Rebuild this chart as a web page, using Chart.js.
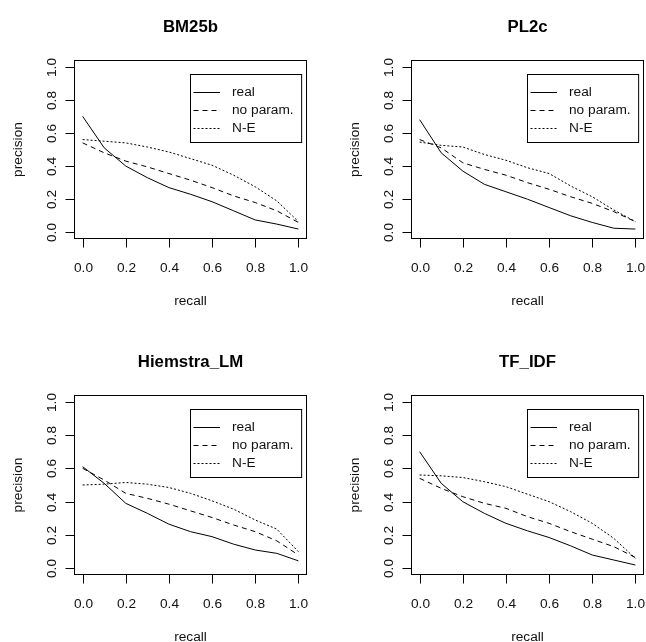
<!DOCTYPE html>
<html lang="en">
<head>
  <meta charset="UTF-8">
  <title>Recall / precision</title>
  <script src="https://cdn.jsdelivr.net/npm/chart.js"></script>
  <style>
    body {
      margin: 0;
      background: #fff;
      width: 646px;
      height: 642px;
      position: relative;
      overflow: hidden;
    }
    canvas {
      position: absolute;
    }
  </style>
</head>
<body>

  <canvas id="c1" width="323" height="321" style="left:0;top:0"></canvas>
  <canvas id="c2" width="323" height="321" style="left:323px;top:0"></canvas>
  <canvas id="c3" width="323" height="321" style="left:0;top:321px"></canvas>
  <canvas id="c4" width="323" height="321" style="left:323px;top:321px"></canvas>

  <script>
    // data (11-point recall levels)
    const recall = [0, 0.1, 0.2, 0.3, 0.4, 0.5, 0.6, 0.7, 0.8, 0.9, 1.0];
    const axisTicks = [0, 0.2, 0.4, 0.6, 0.8, 1.0];
    const tickLabels = ['0.0', '0.2', '0.4', '0.6', '0.8', '1.0'];
    const seriesNames = ['real', 'no param.', 'N-E'];
    const titles = ['BM25b', 'PL2c', 'Hiemstra_LM', 'TF_IDF'];

    const bm25bReal    = [0.70, 0.51, 0.40, 0.33, 0.27, 0.23, 0.185, 0.13, 0.075, 0.05, 0.02];
    const bm25bNoParam = [0.54, 0.48, 0.43, 0.395, 0.355, 0.315, 0.27, 0.22, 0.18, 0.13, 0.06];
    const bm25bNE      = [0.56, 0.55, 0.54, 0.515, 0.485, 0.445, 0.405, 0.345, 0.275, 0.19, 0.065];

    const pl2cReal     = [0.68, 0.48, 0.37, 0.29, 0.245, 0.20, 0.15, 0.10, 0.06, 0.025, 0.02];
    const pl2cNoParam  = [0.56, 0.51, 0.42, 0.38, 0.345, 0.30, 0.26, 0.215, 0.175, 0.125, 0.065];
    const pl2cNE       = [0.545, 0.525, 0.515, 0.47, 0.435, 0.39, 0.355, 0.28, 0.215, 0.135, 0.065];

    const hiemReal     = [0.61, 0.51, 0.39, 0.33, 0.265, 0.22, 0.19, 0.145, 0.11, 0.09, 0.045];
    const hiemNoParam  = [0.60, 0.53, 0.45, 0.42, 0.385, 0.345, 0.305, 0.26, 0.22, 0.165, 0.08];
    const hiemNE       = [0.50, 0.505, 0.515, 0.505, 0.485, 0.45, 0.405, 0.355, 0.29, 0.235, 0.10];

    const tfidfReal    = [0.70, 0.51, 0.40, 0.33, 0.27, 0.225, 0.185, 0.135, 0.08, 0.05, 0.02];
    const tfidfNoParam = [0.54, 0.48, 0.43, 0.39, 0.36, 0.31, 0.27, 0.22, 0.175, 0.13, 0.065];
    const tfidfNE      = [0.56, 0.555, 0.545, 0.52, 0.49, 0.445, 0.40, 0.34, 0.27, 0.18, 0.06];

    const FONT = '"Liberation Sans", Arial, sans-serif';
    const dashes = [[], [5, 4], [2, 2]];

    // R style box, axes, labels and legend, drawn off the chart's own scales
    const rFrame = {
      id: 'rFrame',
      afterDraw(chart, args, opts) {
        const ctx = chart.ctx;
        const a = chart.chartArea;
        const xs = chart.scales.x;
        const ys = chart.scales.y;
        ctx.save();
        ctx.strokeStyle = '#000';
        ctx.fillStyle = '#111';
        ctx.lineWidth = 1;

        // box
        ctx.strokeRect(Math.round(a.left) + 0.5, Math.round(a.top) + 0.5,
          Math.round(a.right - a.left) - 1, Math.round(a.bottom - a.top) - 1);

        // x axis
        ctx.font = '13.7px ' + FONT;
        ctx.textAlign = 'center';
        ctx.textBaseline = 'middle';
        const bottom = Math.round(a.bottom) - 0.5;
        axisTicks.forEach((v, i) => {
          const px = Math.round(xs.getPixelForValue(v)) + 0.5;
          ctx.beginPath();
          ctx.moveTo(px, bottom);
          ctx.lineTo(px, bottom + 9);
          ctx.stroke();
          ctx.fillText(tickLabels[i], px, a.bottom + 29);
        });

        // y axis
        const left = Math.round(a.left) + 0.5;
        axisTicks.forEach((v, i) => {
          const py = Math.round(ys.getPixelForValue(v)) + 0.5;
          ctx.beginPath();
          ctx.moveTo(left, py);
          ctx.lineTo(left - 9, py);
          ctx.stroke();
          ctx.save();
          ctx.translate(a.left - 22, py);
          ctx.rotate(-Math.PI / 2);
          ctx.fillText(tickLabels[i], 0, 0);
          ctx.restore();
        });

        // axis titles
        const cx = (a.left + a.right) / 2;
        const cy = (a.top + a.bottom) / 2;
        ctx.fillText('recall', cx, a.bottom + 62);
        ctx.save();
        ctx.translate(a.left - 56, cy);
        ctx.rotate(-Math.PI / 2);
        ctx.fillText('precision', 0, 0);
        ctx.restore();

        // main title
        ctx.fillStyle = '#000';
        ctx.font = 'bold 16.8px ' + FONT;
        ctx.fillText(opts.title, cx, a.top - 33);

        // legend
        ctx.font = '13.7px ' + FONT;
        ctx.fillStyle = '#111';
        const tw = Math.max(...seriesNames.map(s => ctx.measureText(s).width));
        const lw = 41.5 + tw + 8;
        const lh = 68;
        const lx = Math.round(a.right - 6 - lw) + 0.5;
        const ly = Math.round(a.top + 14) + 0.5;
        ctx.fillStyle = '#fff';
        ctx.fillRect(lx, ly, lw, lh);
        ctx.strokeRect(lx, ly, lw, lh);
        ctx.fillStyle = '#111';
        ctx.textAlign = 'left';
        seriesNames.forEach((s, i) => {
          const ry = Math.round(ly + 17.5 + i * 18) + 0.5;
          ctx.setLineDash(dashes[i]);
          ctx.beginPath();
          ctx.moveTo(lx + 3, ry);
          ctx.lineTo(lx + 29.5, ry);
          ctx.stroke();
          ctx.setLineDash([]);
          ctx.fillText(s, lx + 41.5, ry);
        });
        ctx.restore();
      }
    };

    function points(values) {
      return recall.map((r, i) => ({ x: r, y: values[i] }));
    }

    function makePanel(id, title, series, padding) {
      new Chart(document.getElementById(id), {
        type: 'line',
        data: {
          datasets: series.map((vals, i) => ({
            label: seriesNames[i],
            data: points(vals),
            borderColor: '#000',
            borderWidth: 1,
            borderDash: dashes[i],
            pointRadius: 0,
            fill: false,
            tension: 0
          }))
        },
        options: {
          responsive: false,
          animation: false,
          layout: { padding: padding },
          plugins: {
            legend: { display: false },
            tooltip: { enabled: false },
            rFrame: { title: title }
          },
          scales: {
            x: { type: 'linear', min: -0.04, max: 1.04, display: false },
            y: { type: 'linear', min: -0.04, max: 1.04, display: false }
          }
        },
        plugins: [rFrame]
      });
    }

    makePanel('c1', titles[0], [bm25bReal, bm25bNoParam, bm25bNE], { left: 74, right: 16, top: 60, bottom: 82 });
    makePanel('c2', titles[1], [pl2cReal, pl2cNoParam, pl2cNE], { left: 88, right: 2, top: 60, bottom: 82 });
    makePanel('c3', titles[2], [hiemReal, hiemNoParam, hiemNE], { left: 74, right: 16, top: 74, bottom: 67 });
    makePanel('c4', titles[3], [tfidfReal, tfidfNoParam, tfidfNE], { left: 88, right: 2, top: 74, bottom: 67 });
  </script>

</body>
</html>
